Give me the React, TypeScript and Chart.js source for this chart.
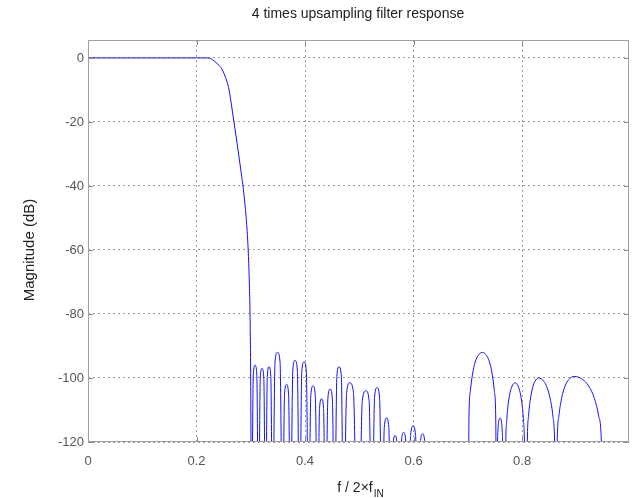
import React, { useEffect, useRef } from "react";
import { Chart, registerables } from "chart.js";

Chart.register(...registerables);

// ---- Data ----
const TITLE = "4 times upsampling filter response";
const Y_LABEL = "Magnitude (dB)";
const X_LABEL_MAIN = "f / 2\u00d7f";
const X_LABEL_SUB = "IN";

const X_TICKS = [0, 0.2, 0.4, 0.6, 0.8];
const Y_TICKS = [-120, -100, -80, -60, -40, -20, 0];

// passband + transition band
const PASS_FREQ = [0, 0.1, 0.2, 0.22, 0.226, 0.23, 0.238, 0.245, 0.251, 0.256, 0.26, 0.2646, 0.269, 0.2733, 0.2775, 0.2816, 0.2856, 0.2915, 0.2952, 0.2973, 0.2986, 0.2998];
const PASS_DB = [0, 0, 0, 0, -0.2, -0.6, -1.8, -3.0, -5.0, -7.4, -10, -15, -20, -25, -30, -35, -40, -50, -60, -70, -80, -100];

// stopband ripples (0.30 .. 0.625)
const RIPPLE_FREQ = [
  0.3014, 0.3046, 0.3078, 0.3111,
  0.3143, 0.3175, 0.3207, 0.324,
  0.3272, 0.3304, 0.3336, 0.3369,
  0.3401, 0.3447, 0.3493, 0.3539,
  0.3585, 0.3622, 0.3659, 0.3696,
  0.3733, 0.3774, 0.3816, 0.3858,
  0.3899, 0.394, 0.3982, 0.4024,
  0.4065, 0.4106, 0.4147, 0.4189,
  0.423, 0.4267, 0.4304, 0.4341,
  0.4378, 0.442, 0.4461, 0.4503,
  0.4544, 0.4586, 0.4627, 0.4669,
  0.471, 0.4766, 0.4825, 0.4892,
  0.4959, 0.4995,
  0.5055, 0.5124, 0.518,
  0.5235, 0.5281, 0.5327, 0.5373,
  0.5419, 0.546, 0.5502, 0.5544,
  0.5585, 0.5622, 0.5659, 0.5696,
  0.5733, 0.5775, 0.5816, 0.5858,
  0.5899, 0.5945, 0.5991, 0.6037,
  0.6083, 0.6124, 0.6166, 0.6208,
  0.6249,
];
const RIPPLE_DB = [
  -150, -99, -96, -99,
  -150, -100, -97, -100,
  -150, -99.5, -96.5, -99.5,
  -150, -95, -92, -95,
  -150, -105, -102, -105,
  -150, -97.5, -94.5, -97.5,
  -150, -98, -95, -98,
  -150, -105.5, -102.5, -105.5,
  -150, -109.5, -106.5, -109.5,
  -150, -106.5, -103.5, -106.5,
  -150, -99.5, -96.5, -99.5,
  -150, -104.5, -101.5, -104.5,
  -150, -150,
  -107, -104, -107,
  -150, -106, -103, -106,
  -150, -115.5, -112.5, -115.5,
  -150, -121, -118, -121,
  -150, -120, -117, -120,
  -150, -118, -115, -118,
  -150, -120.5, -117.5, -120.5,
  -150,
];

// image lobes (0.70 .. 0.95)
const IMAGE_FREQ = [
  0.7005, 0.7021, 0.7047, 0.7084, 0.7136, 0.7189, 0.7268, 0.7346, 0.7399, 0.7451, 0.7488, 0.7514, 0.753,
  0.755, 0.7594, 0.7638, 0.7659,
  0.7687, 0.7698, 0.7716, 0.7742, 0.7779, 0.7816, 0.7871, 0.7926, 0.7963, 0.8, 0.8026, 0.8044, 0.8055,
  0.8083, 0.8096, 0.8118, 0.8149, 0.8194, 0.8238, 0.8304, 0.8398, 0.8461, 0.8524, 0.8568, 0.8599, 0.8618,
  0.8627, 0.8647, 0.868, 0.8727, 0.8793, 0.8859, 0.8959, 0.9119, 0.9226, 0.9333, 0.9408, 0.9461, 0.9493,
  0.997,
];
const IMAGE_DB = [
  -150, -112.5, -104, -99, -95, -93, -92, -93, -95, -99, -104, -112.5, -150,
  -118, -112.5, -118, -150,
  -150, -122, -113.6, -108.4, -104.5, -102.5, -101.5, -102.5, -104.5, -108.4, -113.6, -122, -150,
  -150, -120.5, -112, -107, -103, -101, -100, -101, -103, -107, -112, -120.5, -150,
  -150, -120, -111.6, -106.4, -102.5, -100.5, -99.5, -100.5, -102.5, -106.4, -111.6, -120, -150,
  -150,
];

const FONT = '"Liberation Sans", Arial, Helvetica, sans-serif';

const decorPlugin = {
  id: "decor",
  afterDraw(chart: any) {
    const { ctx, chartArea: a, scales } = chart;
    ctx.save();
    // inward tick marks
    ctx.strokeStyle = "#8a8a8a";
    ctx.lineWidth = 1;
    ctx.beginPath();
    for (const v of X_TICKS) {
      const px = Math.round(scales.x.getPixelForValue(v)) + 0.5;
      ctx.moveTo(px, a.bottom);
      ctx.lineTo(px, a.bottom - 5);
      ctx.moveTo(px, a.top);
      ctx.lineTo(px, a.top + 5);
    }
    for (const v of Y_TICKS) {
      const py = Math.round(scales.y.getPixelForValue(v)) + 0.5;
      ctx.moveTo(a.left, py);
      ctx.lineTo(a.left + 5, py);
      ctx.moveTo(a.right, py);
      ctx.lineTo(a.right - 5, py);
    }
    ctx.stroke();
    // box
    ctx.strokeStyle = "#a0a0a0";
    ctx.strokeRect(a.left + 0.5, a.top + 0.5, a.right - a.left - 1, a.bottom - a.top - 1);

    // title
    ctx.fillStyle = "#222";
    ctx.font = `14px ${FONT}`;
    ctx.textAlign = "center";
    ctx.textBaseline = "middle";
    ctx.fillText(TITLE, 358, 14);

    // y label
    ctx.save();
    ctx.translate(30, 250);
    ctx.rotate(-Math.PI / 2);
    ctx.fillStyle = "#222";
    ctx.font = `15px ${FONT}`;
    ctx.fillText(Y_LABEL, 0, 0);
    ctx.restore();

    // x label with subscript
    ctx.font = `14px ${FONT}`;
    const wMain = ctx.measureText(X_LABEL_MAIN).width;
    ctx.font = `10px ${FONT}`;
    const wSub = ctx.measureText(X_LABEL_SUB).width;
    const x0 = 360 - (wMain + wSub) / 2;
    ctx.textAlign = "left";
    ctx.textBaseline = "alphabetic";
    ctx.fillStyle = "#222";
    ctx.font = `14px ${FONT}`;
    ctx.fillText(X_LABEL_MAIN, x0, 492);
    ctx.font = `10px ${FONT}`;
    ctx.fillText(X_LABEL_SUB, x0 + wMain + 1, 497);
    ctx.restore();
  },
};

export default function App() {
  const ref = useRef<HTMLCanvasElement | null>(null);

  useEffect(() => {
    if (!ref.current) return;
    const pts: { x: number; y: number }[] = [];
    const add = (fs: number[], ds: number[]) => {
      for (let i = 0; i < fs.length; i++) pts.push({ x: fs[i], y: ds[i] });
    };
    add(PASS_FREQ, PASS_DB);
    add(RIPPLE_FREQ, RIPPLE_DB);
    add(IMAGE_FREQ, IMAGE_DB);

    const chart = new Chart(ref.current, {
      type: "line",
      data: {
        datasets: [
          {
            data: pts,
            borderColor: "#1010ff",
            borderWidth: 1,
            pointRadius: 0,
            cubicInterpolationMode: "monotone",
            fill: false,
          },
        ],
      },
      plugins: [decorPlugin],
      options: {
        animation: false,
        responsive: false,
        events: [],
        layout: { padding: { top: 40, right: 4, left: 0, bottom: 0 } },
        plugins: {
          legend: { display: false },
          title: { display: false },
          tooltip: { enabled: false },
        },
        scales: {
          x: {
            type: "linear",
            min: 0,
            max: 0.997,
            afterBuildTicks: (s: any) => {
              s.ticks = X_TICKS.map((v) => ({ value: v }));
            },
            afterFit: (s: any) => {
              s.height = 56;
            },
            ticks: {
              autoSkip: false,
              maxRotation: 0,
              padding: 12,
              color: "#555",
              font: { family: FONT, size: 13 },
              callback: (v: any) => (v === 0 ? "0" : Number(v).toFixed(1)),
            },
            grid: { color: "#9a9a9a", lineWidth: 1, drawTicks: false },
            border: { display: false, dash: [2, 3] },
          },
          y: {
            type: "linear",
            min: -120,
            max: 5.6,
            afterBuildTicks: (s: any) => {
              s.ticks = Y_TICKS.map((v) => ({ value: v }));
            },
            afterFit: (s: any) => {
              s.width = 88;
            },
            ticks: {
              autoSkip: false,
              padding: 4,
              color: "#555",
              font: { family: FONT, size: 13 },
              callback: (v: any) => String(v),
            },
            grid: { color: "#9a9a9a", lineWidth: 1, drawTicks: false },
            border: { display: false, dash: [2, 3] },
          },
        },
      },
    } as any);
    return () => chart.destroy();
  }, []);

  return (
    <div style={{ position: "absolute", left: 0, top: 0, width: 633, height: 498, background: "#fff" }}>
      <canvas ref={ref} width={633} height={498} style={{ display: "block" }} />
    </div>
  );
}
